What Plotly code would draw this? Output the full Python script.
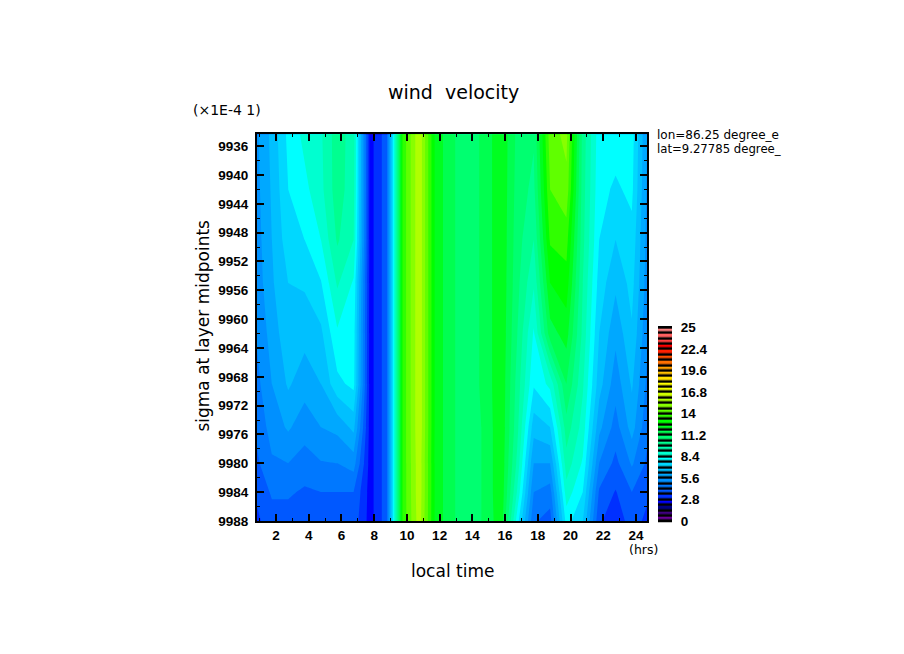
import plotly.graph_objects as go

hours = [0.75 + k for k in range(25)]
sigma = [9934.35, 9942, 9949, 9955, 9962, 9969, 9975, 9980, 9984, 9988]
# wind speed per sigma level (top to bottom), one value per hour
w0 = [5.4, 6.5, 7.9, 8.6, 9.0, 10.2, 9.4, 2.5, 3.9, 13.5, 16.0, 12.4, 11.3, 10.8, 11.4, 12.5, 11.0, 10.6, 14.4, 14.9, 10.2, 8.0, 8.0, 8.0, 5.4]
w1 = [5.3, 6.4, 7.7, 8.2, 8.9, 10.2, 9.3, 2.5, 3.9, 13.5, 16.0, 12.4, 11.3, 10.8, 11.4, 12.5, 10.9, 10.3, 14.0, 14.5, 10.1, 7.9, 7.6, 7.85, 5.3]
w2 = [5.2, 6.3, 7.4, 7.7, 8.4, 9.9, 9.1, 2.5, 3.9, 13.5, 16.0, 12.4, 11.3, 10.8, 11.4, 12.5, 10.8, 9.8, 13.4, 13.6, 10.0, 7.7, 7.0, 7.5, 5.2]
w3 = [5.1, 6.2, 7.0, 7.1, 7.65, 9.2, 8.3, 2.5, 3.9, 13.5, 16.0, 12.4, 11.3, 10.8, 11.4, 12.5, 10.7, 9.2, 12.6, 13.0, 9.8, 7.4, 6.45, 7.25, 5.1]
w4 = [4.9, 5.9, 6.8, 6.55, 6.85, 8.3, 8.0, 2.5, 3.9, 13.5, 16.0, 12.4, 11.3, 10.8, 11.4, 12.5, 10.5, 8.3, 11.6, 12.2, 9.6, 7.0, 5.8, 6.9, 4.9]
w5 = [4.6, 5.6, 6.4, 5.9, 6.3, 7.5, 7.9, 2.5, 3.9, 13.5, 16.0, 12.4, 11.3, 10.8, 11.4, 12.5, 10.2, 7.8, 8.6, 11.2, 9.2, 6.6, 5.2, 6.4, 4.6]
w6 = [4.3, 5.2, 5.7, 5.2, 5.6, 5.8, 6.5, 2.5, 3.9, 13.5, 16.0, 12.4, 11.3, 10.8, 11.3, 12.5, 10.0, 6.6, 7.0, 10.2, 8.8, 5.8, 4.6, 5.9, 4.3]
w7 = [4.0, 4.8, 4.9, 4.6, 4.85, 4.9, 5.2, 2.5, 3.9, 13.5, 15.9, 12.4, 11.3, 10.8, 11.3, 12.5, 9.6, 5.6, 5.6, 9.5, 8.3, 4.9, 4.0, 5.0, 4.0]
w8 = [3.6, 4.3, 4.3, 4.1, 4.2, 4.2, 4.2, 2.5, 3.9, 13.5, 15.9, 12.4, 11.3, 10.8, 11.3, 12.5, 9.0, 4.9, 4.6, 8.8, 7.7, 4.1, 3.45, 4.2, 3.6]
w9 = [3.3, 3.9, 3.9, 3.9, 3.9, 3.9, 3.9, 2.5, 3.9, 13.5, 15.8, 12.4, 11.3, 10.8, 11.3, 12.4, 8.0, 4.3, 3.9, 8.0, 7.0, 3.6, 3.1, 3.8, 3.3]
wind = [w0, w1, w2, w3, w4, w5, w6, w7, w8, w9]

band_colors = [
    "#6a0098", "#400080", "#000080", "#0000ff", "#0030ff", "#0058ff",
    "#0078ff", "#0090ff", "#00a8ff", "#00c0ff", "#00d8ff", "#00ffff",
    "#00ffd0", "#00ffb0", "#00ff90", "#00ff70", "#00ff50", "#00ff20",
    "#00ff00", "#30ff00", "#60ff00", "#88ff00", "#b0ff00", "#d0ff00",
    "#f0ff00", "#ffff00", "#ffe000", "#ffc000", "#ffa000", "#ff7000",
    "#ff5000", "#ff2000", "#ff0000", "#ff4040", "#ff6060", "#ff8080",
]
bar_tick_vals = [0, 2.8, 5.6, 8.4, 11.2, 14, 16.8, 19.6, 22.4, 25.2]
bar_tick_text = ["0", "2.8", "5.6", "8.4", "11.2", "14", "16.8", "19.6", "22.4", "25"]
x_ticks = list(range(2, 25, 2))
y_ticks = list(range(9936, 9989, 4))

STEP = 0.7
TOP = 25.2
n = len(band_colors)
scale = []
for i, c in enumerate(band_colors):
    scale.append([i / n, c])
    scale.append([(i + 1) / n, c])

W, H = 904, 654
FONT = "DejaVu Sans"
LABEL = "Liberation Sans"


def dx(p):
    return (p - 8) / W


def dy(p):
    return 1 - ((p - 10.7) / 0.987) / H


fig = go.Figure()
fig.add_trace(go.Contour(
    x=hours, y=sigma, z=wind, colorscale=scale, zmin=0, zmax=TOP,
    autocontour=False,
    contours=dict(start=0, end=TOP, size=STEP, coloring="fill", showlines=False),
    line=dict(width=0, smoothing=0), showscale=False, hoverinfo="skip",
))
band_mid = [STEP * (i + 0.5) for i in range(n)]
fig.add_trace(go.Heatmap(
    x=[0], y=band_mid, z=[[v] for v in band_mid], colorscale=scale, zmin=0, zmax=TOP,
    ygap=2.5, showscale=False, hoverinfo="skip", xaxis="x2", yaxis="y2",
))

axis_font = dict(family=LABEL, size=13.5, weight="bold", color="black")


def note(text, x, y, size, xanchor="center", angle=0):
    return dict(text=text, x=dx(x), y=dy(y), xref="paper", yref="paper",
                xanchor=xanchor, yanchor="middle", textangle=angle, showarrow=False,
                font=dict(family=FONT, size=size, color="black"))


fig.update_layout(
    width=W, height=H, autosize=False,
    margin=dict(l=0, r=0, t=0, b=0),
    paper_bgcolor="white", plot_bgcolor="white",
    showlegend=False,
    xaxis=dict(
        domain=[dx(257), dx(647)], range=[0.84, 24.67], anchor="y",
        tickvals=x_ticks, ticks="inside", ticklen=7, tickwidth=2, tickcolor="black",
        minor=dict(dtick=1, tick0=1, ticks="inside", ticklen=3, tickwidth=1, tickcolor="black"),
        showline=True, linewidth=2, linecolor="black", mirror="allticks",
        showgrid=False, zeroline=False, tickfont=axis_font, ticklabelstandoff=1,
    ),
    yaxis=dict(
        domain=[dy(522), dy(132)], range=[9988, 9934.35], anchor="x",
        tickvals=y_ticks, ticktext=[str(v) for v in y_ticks],
        ticks="inside", ticklen=7, tickwidth=2, tickcolor="black",
        minor=dict(dtick=2, tick0=9934, ticks="inside", ticklen=3, tickwidth=1, tickcolor="black"),
        showline=True, linewidth=2, linecolor="black", mirror="allticks",
        showgrid=False, zeroline=False, tickfont=axis_font, ticklabelstandoff=4,
    ),
    xaxis2=dict(
        domain=[dx(658), dx(672)], range=[-0.5, 0.5], anchor="y2",
        showticklabels=False, ticks="", showgrid=False, zeroline=False, showline=False,
    ),
    yaxis2=dict(
        domain=[dy(523.5), dy(325.5)], range=[-0.2, 25.4], anchor="x2", side="right",
        tickvals=bar_tick_vals, ticktext=bar_tick_text, ticks="outside", ticklen=5,
        tickcolor="rgba(0,0,0,0)", showgrid=False, zeroline=False, showline=False,
        tickfont=dict(family=LABEL, size=13.5, weight="bold", color="black"),
    ),
    shapes=[
        dict(type="rect", xref="x2", yref="y2", x0=-0.5, x1=0.5, y0=-0.2, y1=25.4,
             fillcolor="black", line=dict(width=0), layer="below"),
    ],
    annotations=[
        note("wind  velocity", 453, 89, 19),
        note("(×1E-4 1)", 191, 108, 14, "left"),
        note("local time", 452, 572, 17),
        note("sigma at layer midpoints", 203, 325, 17, angle=-90),
        note("(hrs)", 643, 551, 12.5),
        note("lon=86.25 degree_e", 655, 133, 12, "left"),
        note("lat=9.27785 degree_", 655, 147, 11.7, "left"),
    ],
)
fig.write_html("out.html")
